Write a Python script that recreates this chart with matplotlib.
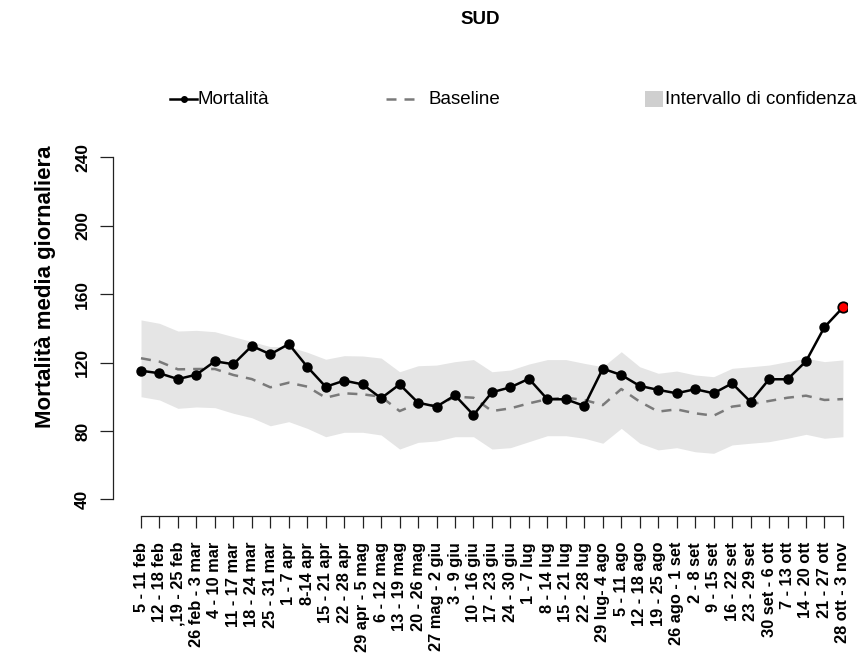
import matplotlib
matplotlib.use("Agg")
import matplotlib.pyplot as plt
from matplotlib.lines import Line2D
from matplotlib.patches import Rectangle

plt.rcParams['font.family'] = ['Liberation Sans', 'DejaVu Sans']

weeks = ["5 - 11 feb", "12 - 18 feb", ",19 - 25 feb", "26 feb - 3 mar", "4 - 10 mar",
         "11 - 17 mar", "18 - 24 mar", "25 - 31 mar", "1 - 7 apr", "8-14 apr",
         "15 - 21 apr", "22 - 28 apr", "29 apr - 5 mag", "6 - 12 mag", "13 - 19 mag",
         "20 - 26 mag", "27 mag - 2 giu", "3 - 9 giu", "10 - 16 giu", "17 - 23 giu",
         "24 - 30 giu", "1 - 7 lug", "8 - 14 lug", "15 - 21 lug", "22 - 28 lug",
         "29 lug- 4 ago", "5 - 11 ago", "12 - 18 ago", "19 - 25 ago", "26 ago - 1 set",
         "2 - 8 set", "9 - 15 set", "16 - 22 set", "23 - 29 set", "30 set - 6 ott",
         "7 - 13 ott", "14 - 20 ott", "21 - 27 ott", "28 ott - 3 nov"]

mortalita = [115.2, 113.7, 110.3, 112.9, 120.7, 119.0, 129.7, 124.8, 130.8, 117.5,
             105.8, 109.4, 107.2, 99.1, 107.2, 96.5, 94.2, 100.8, 89.3, 102.6,
             105.5, 110.5, 98.5, 98.5, 94.6, 116.4, 112.7, 106.3, 104.0, 102.0,
             104.4, 102.0, 107.8, 97.0, 110.2, 110.2, 120.7, 140.7, 152.2]

baseline = [122.5, 120.5, 116.0, 116.2, 116.2, 112.7, 110.3, 105.5, 108.2, 105.9,
            99.4, 102.0, 101.4, 100.0, 91.6, 96.1, 94.7, 100.0, 99.4, 91.6,
            93.2, 96.1, 98.6, 99.4, 98.1, 95.1, 104.5, 97.1, 91.3, 92.6,
            90.3, 88.9, 94.2, 95.6, 97.5, 99.4, 100.6, 98.1, 98.6]

upper = [144.9, 142.9, 138.4, 138.8, 138.0, 135.1, 132.2, 129.3, 129.3, 126.0,
         121.9, 124.0, 123.8, 122.6, 114.6, 118.1, 118.5, 120.5, 121.7, 114.6,
         115.6, 119.1, 121.7, 121.7, 119.5, 117.5, 126.3, 117.5, 113.7, 115.0,
         112.7, 111.7, 116.6, 117.5, 118.5, 120.5, 122.5, 120.5, 121.5]

lower = [100.0, 98.1, 93.2, 94.0, 93.6, 90.3, 87.7, 83.0, 85.4, 81.5,
         76.6, 79.2, 79.2, 77.6, 69.4, 73.3, 74.1, 76.6, 76.6, 69.4,
         70.2, 73.7, 77.2, 77.2, 75.7, 72.8, 81.5, 72.8, 68.9, 70.2,
         67.8, 66.9, 71.8, 72.8, 73.7, 75.7, 78.0, 75.7, 76.6]

yticks = [40, 80, 120, 160, 200, 240]

W, H = 863, 654
fig = plt.figure(figsize=(W / 100, H / 100), dpi=100)

def fx(px):
    return px / W

def fy(py):
    return 1 - py / H

ax = fig.add_axes([fx(113), fy(513), fx(847) - fx(113), fy(143.6) - fy(513)])

x = list(range(1, len(weeks) + 1))

ax.fill_between(x, lower, upper, color='#e5e5e5', linewidth=0, zorder=1)
ax.plot(x, baseline, color='#7a7a7a', linewidth=1.8, dashes=(4, 3.2), zorder=2)
ax.plot(x, mortalita, color='black', linewidth=1.8, marker='o', markersize=6.5,
        markerfacecolor='black', markeredgecolor='black', zorder=3)
ax.plot(x[-1:], mortalita[-1:], linestyle='none', marker='o', markersize=7.5,
        markerfacecolor='red', markeredgecolor='black', markeredgewidth=1.3, zorder=4)

ax.set_xlim(-0.516, 39.22)
ax.set_ylim(32, 248)

for s in ['top', 'right']:
    ax.spines[s].set_visible(False)
ax.spines['left'].set_bounds(40, 240)
ax.spines['bottom'].set_bounds(1, len(weeks))
ax.spines['bottom'].set_position(('outward', 2.2))
for s in ['left', 'bottom']:
    ax.spines[s].set_linewidth(0.9)
    ax.spines[s].set_color('#222222')

ax.set_xticks(x)
ax.set_xticklabels(weeks, rotation=90, fontsize=11.8, fontweight='bold')
ax.set_yticks(yticks)
ax.set_yticklabels([str(v) for v in yticks], rotation=90, va='center',
                   fontsize=12.5, fontweight='bold')
ax.tick_params(axis='x', length=8.6, width=0.9, color='#222222', pad=10)
ax.tick_params(axis='y', length=9.5, width=0.9, color='#222222', pad=7)

fig.text(fx(45), fy(287), "Mortalità media giornaliera", rotation=90,
         ha='center', va='center', fontsize=16, fontweight='bold')

fig.text(fx(480), fy(20), "SUD", ha='center', va='center', fontsize=13.5,
         fontweight='bold')

# legend
ly = fy(99)
fig.add_artist(Line2D([fx(170), fx(197)], [ly, ly], color='black', linewidth=1.8,
                      transform=fig.transFigure))
fig.add_artist(Line2D([fx(183.5)], [ly], color='black', marker='o', markersize=4,
                      linestyle='none', transform=fig.transFigure))
fig.text(fx(197), ly, "Mortalità", ha='left', va='center', fontsize=13.5)

fig.add_artist(Line2D([fx(386), fx(420)], [ly, ly], color='#7a7a7a', linewidth=1.8,
                      dashes=(4, 3.2), transform=fig.transFigure))
fig.text(fx(428), ly, "Baseline", ha='left', va='center', fontsize=13.5)

fig.add_artist(Rectangle((fx(645), fy(107)), fx(18), fy(91) - fy(107),
                         facecolor='#cfcfcf', edgecolor='none',
                         transform=fig.transFigure))
fig.text(fx(665), ly, "Intervallo di confidenza", ha='left', va='center', fontsize=13.5)

fig.savefig("out.png", dpi=100)
